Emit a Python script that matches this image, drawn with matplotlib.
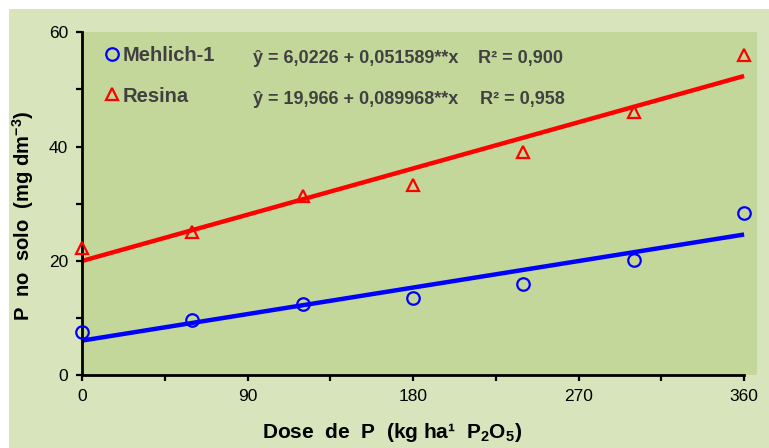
import matplotlib
matplotlib.use('Agg')
import matplotlib.pyplot as plt
from matplotlib.patches import Rectangle
from matplotlib.ticker import MultipleLocator

# doses of P (kg/ha P2O5)
dose = [0, 60, 120, 180, 240, 300, 360]
mehlich = [7.6, 9.6, 12.4, 13.4, 15.9, 20.1, 28.4]
resina = [22.3, 25.1, 31.3, 33.3, 39.0, 46.0, 56.0]

# fitted lines
a_meh, b_meh = 6.0226, 0.051589
a_res, b_res = 19.966, 0.089968

eq_meh = 'ŷ = 6,0226 + 0,051589**x'
eq_res = 'ŷ = 19,966 + 0,089968**x'
r2_meh = 'R² = 0,900'
r2_res = 'R² = 0,958'

plt.rcParams['font.family'] = ['Liberation Sans', 'DejaVu Sans']
plt.rcParams['mathtext.default'] = 'regular'

fig = plt.figure(figsize=(7.69, 4.48), dpi=100)
fig.patch.set_facecolor('white')
fig.patches.append(Rectangle((9/769, 0), 1, 1 - 9/448, transform=fig.transFigure,
                             facecolor='#d8e4bc', edgecolor='none', zorder=-10))

ax = fig.add_axes([82/769, 73/448, 675/769, 342.7/448])
ax.set_facecolor('#c4d79b')

xfit = [0, 360]
ax.plot(xfit, [a_meh + b_meh*x for x in xfit], color='#0000ff', lw=3.2, solid_capstyle='butt', zorder=2)
ax.plot(xfit, [a_res + b_res*x for x in xfit], color='#ff0000', lw=3.2, solid_capstyle='butt', zorder=2)
ax.plot(dose, mehlich, 'o', mfc='none', mec='#0000ff', ms=9, mew=1.6, label='Mehlich-1', zorder=3, clip_on=False)
ax.plot(dose, resina, '^', mfc='none', mec='#ff0000', ms=8.5, mew=1.6, label='Resina', zorder=3, clip_on=False)

ax.set_xlim(0, 367)
ax.set_ylim(0, 60)
ax.xaxis.set_minor_locator(MultipleLocator(45))
ax.yaxis.set_major_locator(MultipleLocator(20))
ax.yaxis.set_minor_locator(MultipleLocator(10))
ax.set_xticks([0, 90, 180, 270, 360])
ax.tick_params(which='both', direction='out', length=4, width=1.6, color='black')
ax.tick_params(labelsize=12.5, pad=6)

for s in ['top', 'right']:
    ax.spines[s].set_visible(False)
for s in ['left', 'bottom']:
    ax.spines[s].set_linewidth(2)
ax.spines['bottom'].set_bounds(0, 360)

ax.set_xlabel('Dose  de  P  (kg ha¹  P$_2$O$_5$)', fontsize=15, fontweight='bold')
ax.xaxis.set_label_coords(0.46, -0.135)
ax.set_ylabel('P  no  solo  (mg dm$^{-3}$)', fontsize=14.5, fontweight='bold')
ax.yaxis.set_label_coords(-0.068, 0.465)

leg = ax.legend(loc='upper left', bbox_to_anchor=(0.015, 1.0), frameon=False, handlelength=0.6,
                handletextpad=0.2, labelspacing=1.05, borderaxespad=0.3,
                prop={'size': 14.5, 'weight': 'bold'}, labelcolor='#404040')

ax.text(0.253, 0.925, eq_meh, transform=ax.transAxes, fontsize=13, fontweight='bold', color='#404040', va='center')
ax.text(0.586, 0.925, r2_meh, transform=ax.transAxes, fontsize=13, fontweight='bold', color='#404040', va='center')
ax.text(0.253, 0.805, eq_res, transform=ax.transAxes, fontsize=13, fontweight='bold', color='#404040', va='center')
ax.text(0.590, 0.805, r2_res, transform=ax.transAxes, fontsize=13, fontweight='bold', color='#404040', va='center')

fig.savefig('out.png', dpi=100, facecolor=fig.get_facecolor())
